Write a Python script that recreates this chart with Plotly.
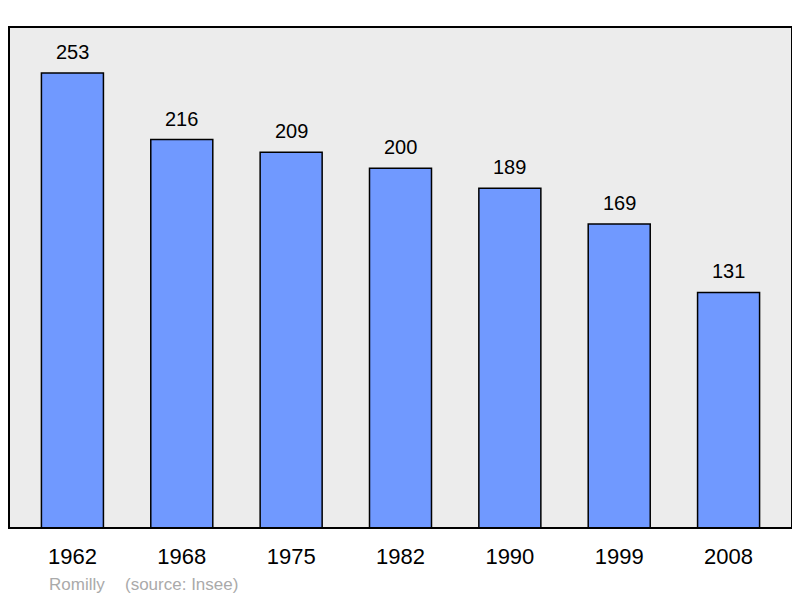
import plotly.graph_objects as go

years = ["1962", "1968", "1975", "1982", "1990", "1999", "2008"]
population = [253, 216, 209, 200, 189, 169, 131]
commune = "Romilly"
source = "(source: Insee)"

FONT = "Liberation Sans, Arial"

fig = go.Figure()
fig.add_trace(go.Bar(
    x=list(range(len(years))), y=population,
    width=0.567,
    marker=dict(color="#7099ff", line=dict(color="#000000", width=1.5)),
    hoverinfo="skip",
))
for i, v in enumerate(population):
    fig.add_annotation(x=i, y=v, text=str(v), showarrow=False,
                       yanchor="bottom", yshift=8,
                       font=dict(family=FONT, size=20, color="#000"))

fig.add_annotation(xref="paper", yref="paper", x=(47-9)/783, y=-(584-528)/501,
                   text=commune, showarrow=False, xanchor="left", yanchor="middle",
                   font=dict(family=FONT, size=17, color="#aaaaaa"))
fig.add_annotation(xref="paper", yref="paper", x=(123-9)/783, y=-(584-528)/501,
                   text=source, showarrow=False, xanchor="left", yanchor="middle",
                   font=dict(family=FONT, size=17, color="#aaaaaa"))

fig.add_shape(type="rect", xref="paper", yref="paper", x0=0, y0=0, x1=1, y1=1,
              line=dict(color="#000", width=2), layer="above")

fig.update_layout(
    width=792, height=590,
    margin=dict(l=1, r=8, t=19, b=70),
    plot_bgcolor="#ececec", paper_bgcolor="#ffffff",
    showlegend=False,
    xaxis=dict(range=[-0.58, 6.58], tickmode="array",
               tickvals=list(range(len(years))), ticktext=years,
               ticks="outside", ticklen=9, tickcolor="rgba(0,0,0,0)",
               tickfont=dict(family=FONT, size=22, color="#000"),
               showgrid=False, zeroline=False, showline=False, fixedrange=True),
    yaxis=dict(range=[0, 278.6], showticklabels=False, showgrid=False,
               zeroline=False, showline=False, fixedrange=True),
)
fig.write_html("out.html")
